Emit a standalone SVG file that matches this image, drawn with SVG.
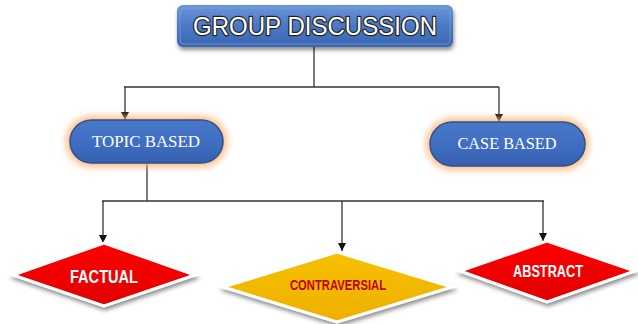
<svg xmlns="http://www.w3.org/2000/svg" width="638" height="324" viewBox="0 0 638 324">
<defs>
  <linearGradient id="gTitle" x1="0" y1="0" x2="0" y2="1">
    <stop offset="0" stop-color="#6b96d8"/>
    <stop offset="0.5" stop-color="#4a78c6"/>
    <stop offset="1" stop-color="#3b66b0"/>
  </linearGradient>
  <linearGradient id="gPill" x1="0" y1="0" x2="0" y2="1">
    <stop offset="0" stop-color="#4a78c8"/>
    <stop offset="0.6" stop-color="#3e6cc0"/>
    <stop offset="1" stop-color="#3560ad"/>
  </linearGradient>
  <linearGradient id="gRed" x1="0" y1="0" x2="0" y2="1">
    <stop offset="0" stop-color="#ff0000"/>
    <stop offset="1" stop-color="#e00000"/>
  </linearGradient>
  <linearGradient id="gGold" x1="0" y1="0" x2="0" y2="1">
    <stop offset="0" stop-color="#f7c000"/>
    <stop offset="1" stop-color="#eeb000"/>
  </linearGradient>
  <filter id="shadow" x="-10%" y="-20%" width="120%" height="150%">
    <feGaussianBlur in="SourceAlpha" stdDeviation="2"/>
    <feOffset dx="1" dy="3" result="b"/>
    <feComponentTransfer><feFuncA type="linear" slope="0.45"/></feComponentTransfer>
    <feMerge><feMergeNode/><feMergeNode in="SourceGraphic"/></feMerge>
  </filter>
  <filter id="glow" x="-20%" y="-40%" width="140%" height="180%">
    <feGaussianBlur stdDeviation="3.5"/>
  </filter>
  <marker id="arr" viewBox="0 0 10 10" refX="10" refY="5" markerWidth="8" markerHeight="8" orient="auto" markerUnits="userSpaceOnUse">
    <path d="M0,0 L10,5 L0,10 Z" fill="#111"/>
  </marker>
  <style>
    .conn { fill: none; stroke: #333; stroke-width: 1.3; }
    .title { font-family: "Liberation Sans", Arial, sans-serif; font-size: 25px; fill: #ffffff; stroke: #222; stroke-width: 2.4; paint-order: stroke; stroke-linejoin: round; text-anchor: middle; }
    .pilltext { font-family: "Liberation Serif", "Times New Roman", serif; font-size: 16px; fill: #ffffff; text-anchor: middle; }
    .dtext { font-family: "Liberation Sans", Arial, sans-serif; font-weight: bold; text-anchor: middle; }
    .diamond { stroke: #ffffff; stroke-width: 3; stroke-linejoin: miter; }
  </style>
</defs>
<rect width="638" height="324" fill="#ffffff"/>

<g id="connectors">
  <path class="conn" d="M314,47 V87"/>
  <path class="conn" d="M124,87 H499"/>
  <path class="conn" d="M125,87 V120" marker-end="url(#arr)"/>
  <path class="conn" d="M499,87 V122" marker-end="url(#arr)"/>
  <path class="conn" d="M147,163 V201"/>
  <path class="conn" d="M102,201 H544"/>
  <path class="conn" d="M103,201 V243" marker-end="url(#arr)"/>
  <path class="conn" d="M342,201 V251" marker-end="url(#arr)"/>
  <path class="conn" d="M543,201 V241" marker-end="url(#arr)"/>
</g>

<g id="group-discussion">
  <rect x="177" y="5" width="276" height="42" rx="6" fill="url(#gTitle)" filter="url(#shadow)"/>
  <rect x="180" y="8" width="270" height="36" rx="4" fill="none" stroke="#7fa6e0" stroke-width="1" opacity="0.6"/>
  <text class="title" x="315" y="35" textLength="244" lengthAdjust="spacingAndGlyphs">GROUP DISCUSSION</text>
</g>

<g id="topic-based">
  <rect x="66" y="116" width="161" height="51" rx="25" fill="#ffb070" opacity="0.85" filter="url(#glow)"/>
  <rect x="70" y="120" width="153" height="43" rx="21.5" fill="url(#gPill)" stroke="#2f528f" stroke-width="1.5"/>
  <text class="pilltext" x="146" y="147" textLength="108" lengthAdjust="spacingAndGlyphs">TOPIC BASED</text>
</g>

<g id="case-based">
  <rect x="426" y="118" width="163" height="52" rx="26" fill="#ffb070" opacity="0.85" filter="url(#glow)"/>
  <rect x="430" y="122" width="155" height="44" rx="22" fill="url(#gPill)" stroke="#2f528f" stroke-width="1.5"/>
  <text class="pilltext" x="507" y="149" textLength="99" lengthAdjust="spacingAndGlyphs">CASE BASED</text>
</g>

<g id="factual">
  <polygon class="diamond" points="104,243 195,275 104,306 13,275" fill="url(#gRed)" filter="url(#shadow)"/>
  <text class="dtext" x="104" y="283" font-size="19" fill="#ffffff" textLength="68" lengthAdjust="spacingAndGlyphs">FACTUAL</text>
</g>

<g id="contraversial">
  <polygon class="diamond" points="337,252 452,287 337,322 223,287" fill="url(#gGold)" filter="url(#shadow)"/>
  <text class="dtext" x="338" y="290" font-size="15" fill="#c00000" textLength="96" lengthAdjust="spacingAndGlyphs">CONTRAVERSIAL</text>
</g>

<g id="abstract">
  <polygon class="diamond" points="547,241 635,271 547,302 460,271" fill="url(#gRed)" filter="url(#shadow)"/>
  <text class="dtext" x="548" y="277" font-size="17" fill="#ffffff" textLength="70" lengthAdjust="spacingAndGlyphs">ABSTRACT</text>
</g>
</svg>
